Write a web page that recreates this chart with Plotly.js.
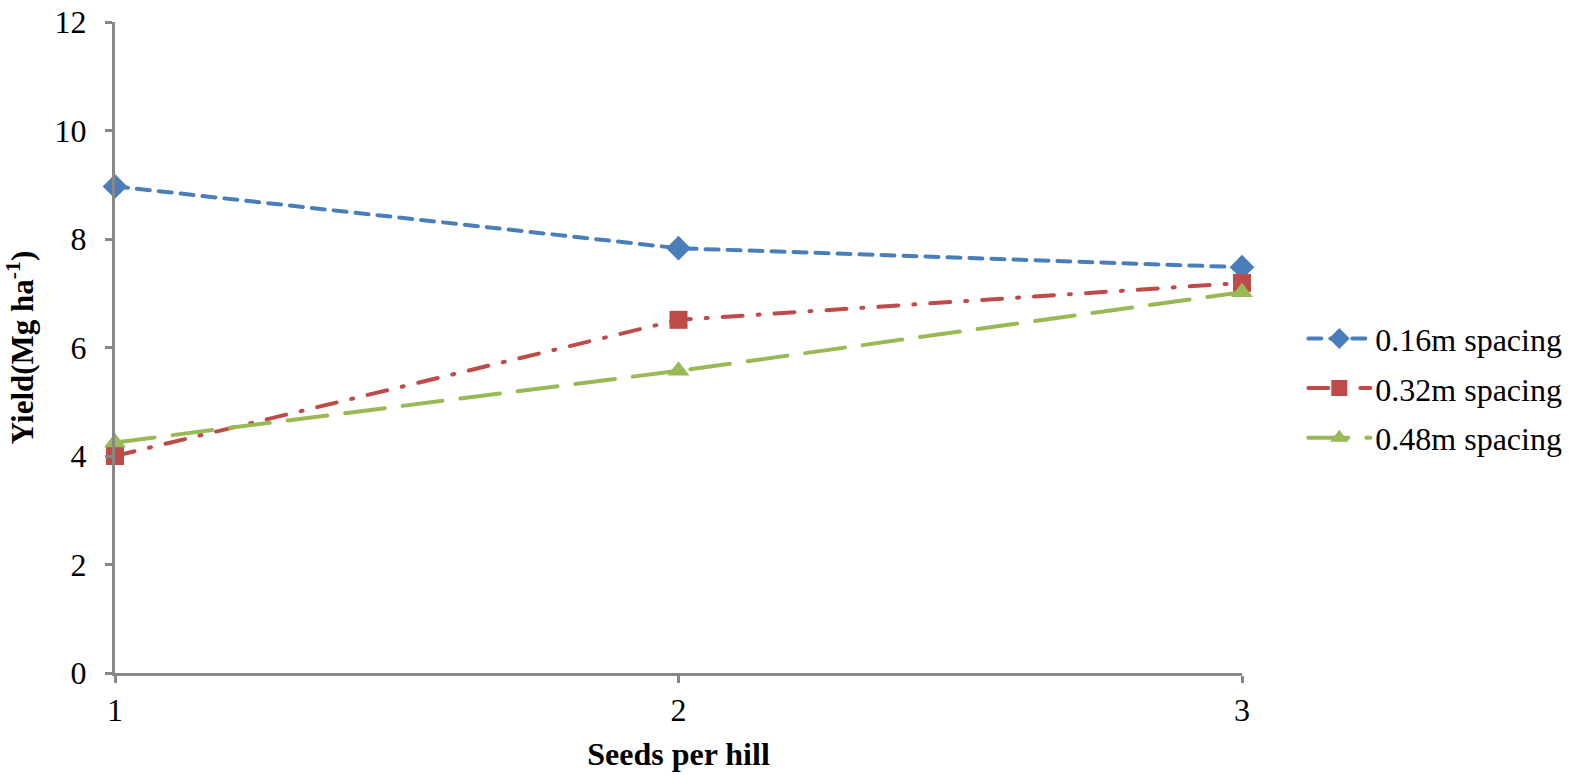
<!DOCTYPE html>
<html>
<head>
<meta charset="utf-8">
<script src="https://cdn.plot.ly/plotly-3.0.1.min.js"></script>
<style>
html,body{margin:0;padding:0;background:#fff;}
#chart{width:1579px;height:775px;}
.js-line{stroke-linecap:round;}
</style>
</head>
<body>
<div id="chart"></div>
<script>
const seedsPerHill = [1, 2, 3];
const spacing016 = [8.97, 7.83, 7.48];
const spacing032 = [4.00, 6.51, 7.19];
const spacing048 = [4.25, 5.57, 7.02];
const seriesNames = ['0.16m spacing', '0.32m spacing', '0.48m spacing'];

const font = 'Liberation Serif, Times New Roman, serif';
const axisColor = '#878787';

const traces = [
  {x: seedsPerHill, y: spacing016, name: seriesNames[0], legendgroup: 'a',
   mode: 'lines+markers', cliponaxis: false,
   line: {color: '#4A7EBB', width: 4, dash: '13px,9px'},
   marker: {symbol: 'diamond', size: 19, color: '#4A7EBB'}},
  {x: seedsPerHill, y: spacing032, name: seriesNames[1], legendgroup: 'b',
   mode: 'lines+markers', cliponaxis: false,
   line: {color: '#BE4B48', width: 4, dash: '20px,15px,2px,15px'},
   marker: {symbol: 'square', size: 18, color: '#BE4B48'}},
  {x: seedsPerHill, y: spacing048, name: seriesNames[2], legendgroup: 'c',
   mode: 'lines+markers', cliponaxis: false,
   line: {color: '#98B954', width: 4, dash: '40px,18px'},
   marker: {symbol: 'triangle-up', size: 19, color: '#98B954'}}
];

const layout = {
  width: 1579, height: 775,
  margin: {l: 115, r: 333, t: 22, b: 102},
  paper_bgcolor: '#fff', plot_bgcolor: '#fff',
  font: {family: font, size: 32, color: '#000'},
  showlegend: true,
  legend: {x: 1.0544, y: 0.4375, xanchor: 'left', yanchor: 'middle',
           traceorder: 'grouped', tracegroupgap: 5, itemwidth: 62,
           font: {family: font, size: 32, color: '#000'}},
  xaxis: {range: [1, 3], tickvals: seedsPerHill, ticktext: ['1','2','3'],
          showline: true, linecolor: axisColor, linewidth: 3,
          ticks: 'outside', ticklen: 7, tickwidth: 3, tickcolor: axisColor,
          showgrid: false, zeroline: false,
          tickfont: {family: font, size: 32},
          title: {text: '<b>Seeds per hill</b>', font: {family: font, size: 32}, standoff: 16}},
  yaxis: {range: [0, 12], dtick: 2, tick0: 0,
          showline: true, linecolor: axisColor, linewidth: 3,
          ticks: 'outside', ticklen: 7, tickwidth: 3, tickcolor: axisColor,
          showgrid: false, zeroline: false, ticklabelstandoff: 12,
          tickfont: {family: font, size: 32},
          title: {text: '<b>Yield(Mg ha<sup>-1</sup>)</b>', font: {family: font, size: 31}, standoff: 12}}
};

Plotly.newPlot('chart', traces, layout, {displayModeBar: false, staticPlot: true});
</script>
</body>
</html>
